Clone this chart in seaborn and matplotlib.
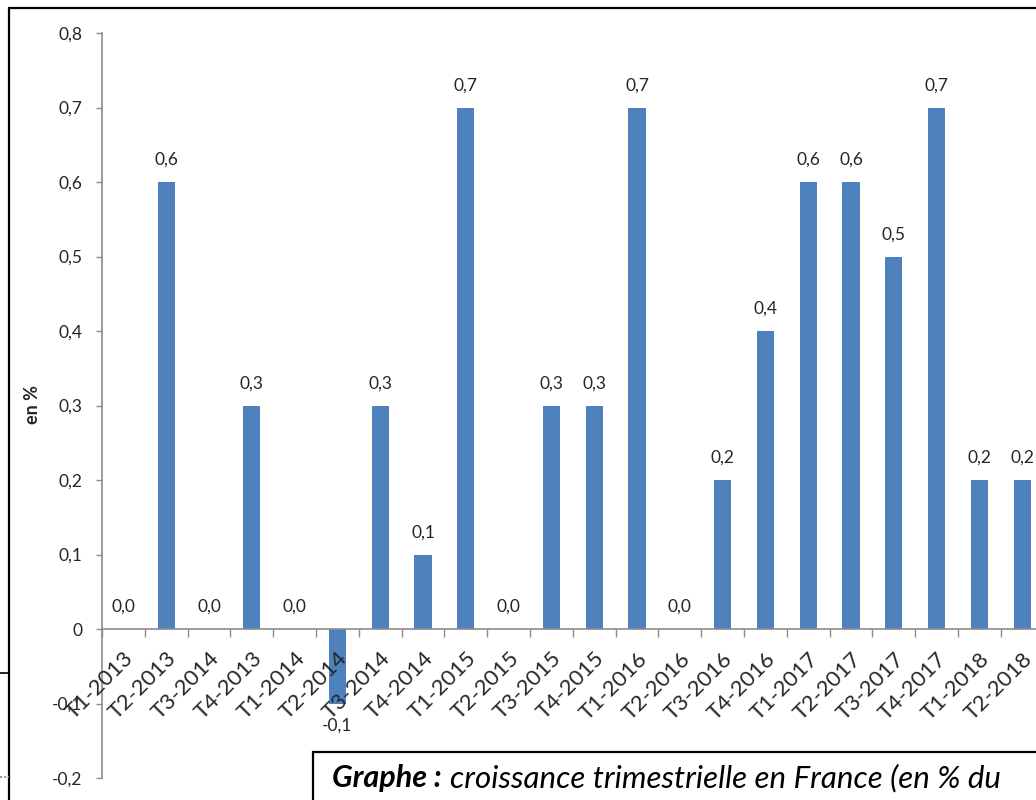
import numpy as np
import seaborn as sns
import matplotlib.pyplot as plt
from matplotlib.patches import Rectangle
from matplotlib.lines import Line2D

# données : croissance trimestrielle (en %)
trimestres = ["T1-2013", "T2-2013", "T3-2014", "T4-2013", "T1-2014", "T2-2014",
              "T3-2014", "T4-2014", "T1-2015", "T2-2015", "T3-2015", "T4-2015",
              "T1-2016", "T2-2016", "T3-2016", "T4-2016", "T1-2017", "T2-2017",
              "T3-2017", "T4-2017", "T1-2018", "T2-2018"]
croissance = [0.0, 0.6, 0.0, 0.3, 0.0, -0.1, 0.3, 0.1, 0.7, 0.0, 0.3, 0.3,
              0.7, 0.0, 0.2, 0.4, 0.6, 0.6, 0.5, 0.7, 0.2, 0.2]
yticks = [-0.2, -0.1, 0, 0.1, 0.2, 0.3, 0.4, 0.5, 0.6, 0.7, 0.8]

sns.set_theme(style="white")
plt.rcParams['font.family'] = ['Lato', 'DejaVu Sans']

W, H = 1036, 800
fig = plt.figure(figsize=(W / 100, H / 100), dpi=100)
# zone de tracé (dépasse à droite comme dans l'original)
ax = fig.add_axes([102 / W, 22 / H, 941.6 / W, 745 / H])

pos = np.arange(len(trimestres))
sns.barplot(x=pos, y=croissance, color="#4F81BD", saturation=1, width=0.4,
            linewidth=0, ax=ax)

fmt = lambda v: f"{v:.1f}".replace(".", ",")
ax.bar_label(ax.containers[0], labels=[fmt(v) for v in croissance],
             padding=10, fontsize=12.5, color="#262626")

gris = "#8c8c8c"
# spines d'abord (set_position réinitialise les graduations)
ax.spines["bottom"].set_position(("data", 0))
for s in ["top", "right"]:
    ax.spines[s].set_visible(False)
for s in ["left", "bottom"]:
    ax.spines[s].set_color(gris)
    ax.spines[s].set_linewidth(1.2)

ax.set_axisbelow(False)
ax.set_xlim(-0.5, len(trimestres) - 0.5)
ax.set_ylim(-0.2, 0.8)
ax.set_yticks(yticks, labels=["0" if v == 0 else fmt(v) for v in yticks],
              fontsize=12.5, color="#262626")
ax.tick_params(axis="y", length=4.3, width=1, color=gris, direction="out",
               left=True, pad=10)
ax.set_xticks(np.arange(-0.5, len(trimestres), 1), minor=True)
ax.tick_params(axis="x", which="minor", length=6, width=1, color=gris,
               direction="out", bottom=True)
ax.tick_params(axis="x", which="major", length=0, pad=14)
ax.set_xticks(pos, labels=trimestres, fontsize=16, color="#262626",
              rotation=45, ha="right", va="top", rotation_mode="anchor")
ax.set_xlabel("")
ax.set_ylabel("")
ax.patch.set_alpha(0)

fig.text(33 / W, 1 - 405 / H, "en %", rotation=90, fontsize=13,
         fontweight="bold", ha="center", va="center", color="#262626")

# cadre extérieur
fig.add_artist(Line2D([9 / W, 1.0], [1 - 8 / H, 1 - 8 / H], color="black", lw=1.6))
fig.add_artist(Line2D([9 / W, 9 / W], [0, 1 - 8 / H], color="black", lw=1.6))
fig.add_artist(Line2D([0, 9 / W], [1 - 673 / H, 1 - 673 / H], color="black", lw=1.2))
fig.add_artist(Line2D([0, 9 / W], [1 - 777 / H, 1 - 777 / H], color="#999999",
                      lw=1.5, ls=(0, (1, 1))))

# encadré de légende
fig.add_artist(Rectangle((313 / W, -0.01), 1, (800 - 752) / H + 0.01,
                         transform=fig.transFigure, fill=True, facecolor="white",
                         edgecolor="black", lw=1.6))
t1 = fig.text(332 / W, 1 - 787 / H, "Graphe :", fontsize=22, fontweight="bold",
              style="italic", va="baseline", color="black")
fig.canvas.draw()
bb = t1.get_window_extent()
fig.text(bb.x1 / W + 8 / W, 1 - 787 / H,
         "croissance trimestrielle en France (en % du", fontsize=22.5,
         style="italic", va="baseline", color="black")

fig.savefig("out.png", dpi=100)
plt.close(fig)
